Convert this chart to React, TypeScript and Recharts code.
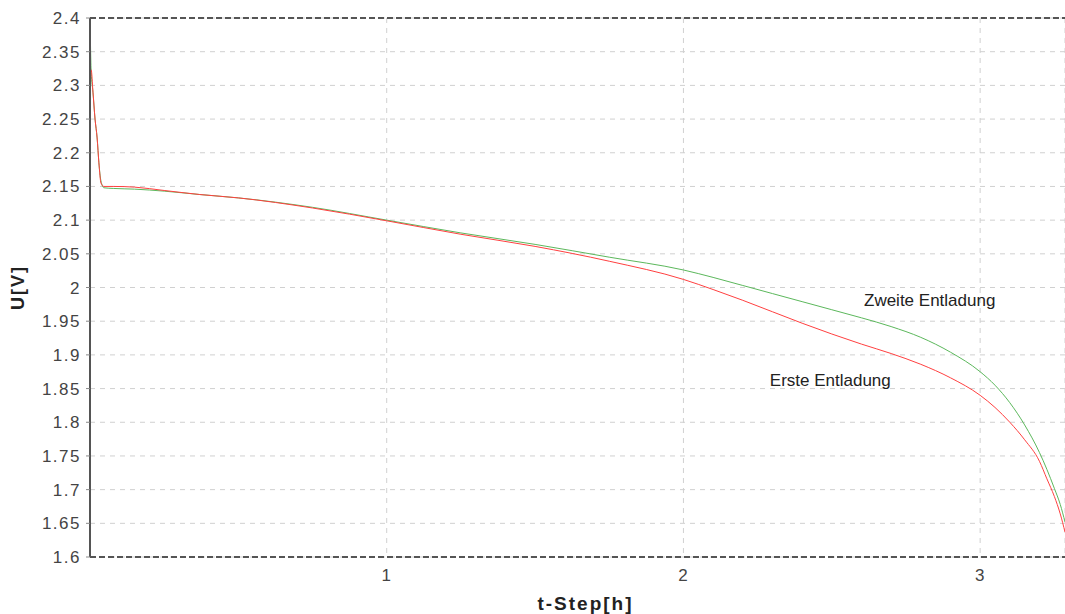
import { LineChart, Line, XAxis, YAxis, CartesianGrid, ReferenceLine, ReferenceDot } from 'recharts'

const time = [
  0, 0.004, 0.01, 0.017, 0.024, 0.03, 0.037, 0.047, 0.08, 0.15, 0.25, 0.37, 0.5, 0.75, 1.0, 1.25, 1.5, 1.75,
  2.0, 2.1, 2.2, 2.3, 2.4, 2.5, 2.6, 2.7, 2.8, 2.9, 3.0, 3.05, 3.1, 3.15, 3.2, 3.225, 3.25, 3.27, 3.286,
]
const ersteEntladung = [
  2.32, 2.323, 2.29, 2.25, 2.222, 2.185, 2.155, 2.15, 2.15, 2.149, 2.144, 2.138, 2.133, 2.118, 2.099, 2.079, 2.061, 2.039,
  2.012, 1.997, 1.981, 1.964, 1.947, 1.931, 1.916, 1.902, 1.886, 1.866, 1.84, 1.822, 1.8, 1.774, 1.742, 1.716, 1.69, 1.664, 1.637,
]
const zweiteEntladung = [
  2.4, 2.32, 2.29, 2.25, 2.222, 2.185, 2.158, 2.148, 2.147, 2.146, 2.143, 2.138, 2.133, 2.119, 2.1, 2.081, 2.064, 2.045,
  2.026, 2.015, 2.003, 1.991, 1.979, 1.967, 1.955, 1.942, 1.926, 1.904, 1.875, 1.855, 1.829, 1.796, 1.755, 1.73, 1.702, 1.678, 1.652,
]
const yTicks = [1.6, 1.65, 1.7, 1.75, 1.8, 1.85, 1.9, 1.95, 2, 2.05, 2.1, 2.15, 2.2, 2.25, 2.3, 2.35, 2.4]
const xTicks = [1, 2, 3]

const data = time.map((t, i) => ({ t, erste: ersteEntladung[i], zweite: zweiteEntladung[i] }))

const font = '"Liberation Sans", Arial, sans-serif'

export default function App() {
  return (
    <div style={{ position: 'absolute', left: 0, top: 0, background: 'white' }}>
      <LineChart width={1065} height={614} data={data} margin={{ top: 18, right: 0, left: 0, bottom: 0 }}>
        <CartesianGrid stroke="#d0d0d0" strokeDasharray="5 5" />
        <XAxis
          dataKey="t"
          type="number"
          domain={[0, 3.286]}
          ticks={xTicks}
          axisLine={false}
          tickLine={false}
          tickMargin={6}
          height={57}
          tick={{ fill: '#444', fontSize: 17, fontFamily: font, letterSpacing: 1 }}
          label={{ value: 't-Step[h]', position: 'insideBottom', offset: 4, dx: 8, fill: '#222', fontSize: 19, fontWeight: 'bold', fontFamily: font, letterSpacing: 2 }}
        />
        <YAxis
          type="number"
          domain={[1.6, 2.4]}
          ticks={yTicks}
          width={90}
          interval={0}
          axisLine={{ stroke: '#555', strokeWidth: 2 }}
          tickLine={{ stroke: '#888' }}
          tickSize={4}
          tickMargin={5}
          tick={{ fill: '#444', fontSize: 17, fontFamily: font, letterSpacing: 1.5 }}
          label={{ value: 'U[V]', angle: -90, position: 'insideLeft', offset: 18, fill: '#222', fontSize: 18, fontWeight: 'bold', fontFamily: font, letterSpacing: 2, style: { textAnchor: 'middle' } }}
        />
        <ReferenceLine y={2.4} stroke="#555" strokeWidth={2} strokeDasharray="6 3" />
        <ReferenceLine y={1.6} stroke="#555" strokeWidth={2} strokeDasharray="6 3" />
        <Line type="monotone" dataKey="zweite" stroke="#5cb85c" strokeWidth={1} dot={false} isAnimationActive={false} />
        <Line type="monotone" dataKey="erste" stroke="#ff4040" strokeWidth={1} dot={false} isAnimationActive={false} />
        <ReferenceDot
          x={2.83}
          y={1.981}
          r={0}
          label={{ value: 'Zweite Entladung', position: 'center', fill: '#222', fontSize: 17, fontFamily: font }}
        />
        <ReferenceDot
          x={2.495}
          y={1.863}
          r={0}
          label={{ value: 'Erste Entladung', position: 'center', fill: '#222', fontSize: 17, fontFamily: font }}
        />
      </LineChart>
    </div>
  )
}
